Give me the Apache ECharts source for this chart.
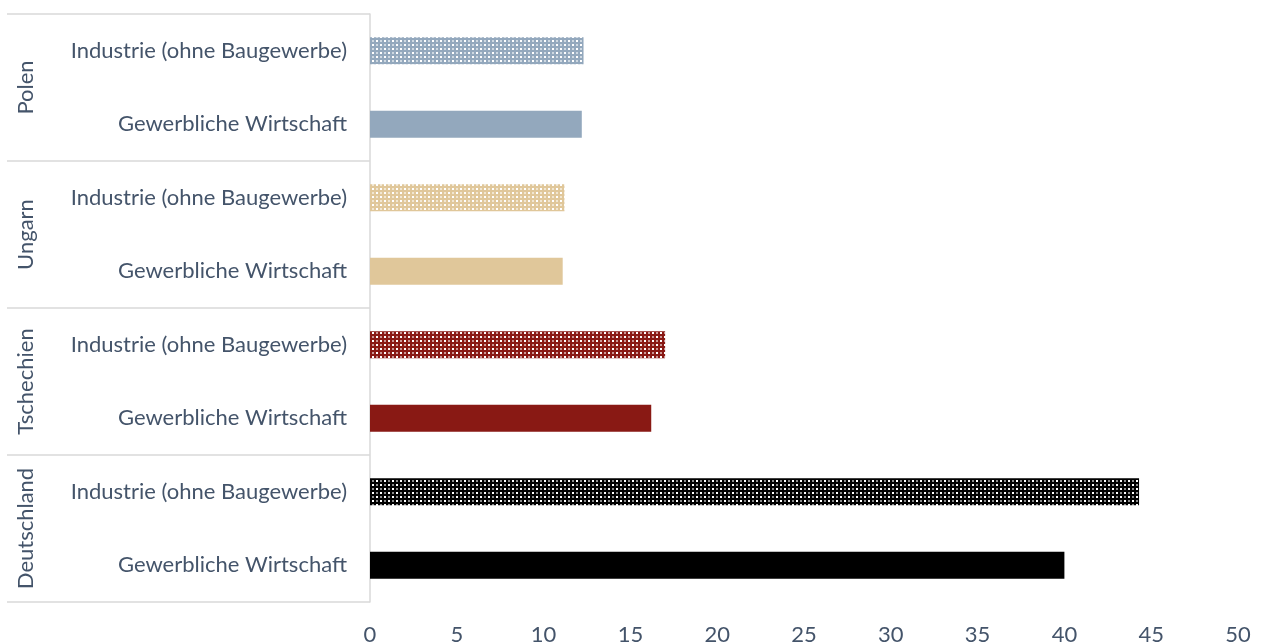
<!DOCTYPE html>
<html><head><meta charset="utf-8">
<script src="https://cdn.jsdelivr.net/npm/echarts@6/dist/echarts.min.js"></script>
<style>html,body{margin:0;padding:0;background:#fff}#c{width:1261px;height:644px}</style>
</head><body><div id="c"></div>
<script>
// Data (bottom to top, as the category axis draws them)
const countries = ['Deutschland', 'Tschechien', 'Ungarn', 'Polen'];
const subCategories = ['Gewerbliche Wirtschaft', 'Industrie (ohne Baugewerbe)'];
const categories = countries.flatMap(() => subCategories);
const values = [40.0, 44.3, 16.2, 17.0, 11.1, 11.2, 12.2, 12.3];
const xMin = 0, xMax = 50, xStep = 5;

// Styles
const countryColors = ['#000000', '#891914', '#E0C79A', '#93A8BD'];
const textColor = '#44546A';
const fontFamily = 'Lato, "Open Sans", sans-serif';

function pattern(color) {
  const c = document.createElement('canvas');
  c.width = 8; c.height = 8;
  const g = c.getContext('2d');
  g.fillStyle = color; g.fillRect(0, 0, 8, 8);
  g.fillStyle = '#ffffff';
  g.fillRect(0, 0, 2, 2); g.fillRect(4, 4, 2, 2);
  g.fillStyle = 'rgba(255,255,255,0.55)';
  g.fillRect(4, 0, 2, 2); g.fillRect(0, 4, 2, 2);
  return { image: c, repeat: 'repeat' };
}

const barData = values.map((v, i) => {
  const col = countryColors[Math.floor(i / 2)];
  return { value: v, itemStyle: { color: i % 2 === 1 ? pattern(col) : col } };
});

const chart = echarts.init(document.getElementById('c'), null, { renderer: 'canvas' });
chart.setOption({
  animation: false,
  backgroundColor: '#ffffff',
  grid: { left: 370, right: 23, top: 14, bottom: 42, containLabel: false, outerBoundsMode: 'none' },
  xAxis: {
    type: 'value', min: xMin, max: xMax, interval: xStep,
    axisLine: { show: false }, axisTick: { show: false }, splitLine: { show: false },
    axisLabel: { color: textColor, fontSize: 22, fontFamily, margin: 22 }
  },
  yAxis: [
    {
      type: 'category', data: categories, position: 'left',
      axisLine: { show: true, lineStyle: { color: '#D9D9D9', width: 1.5 } },
      axisTick: { show: false },
      axisLabel: { color: textColor, fontSize: 22, fontFamily, margin: 23, interval: 0 }
    },
    {
      type: 'category', data: countries, position: 'left', offset: 0,
      axisLine: { show: false },
      axisTick: { show: true, length: 363, interval: 0, lineStyle: { color: '#D9D9D9', width: 1.5 } },
      axisLabel: { color: textColor, fontSize: 22, fontFamily, rotate: 90, margin: 333, interval: 0 }
    }
  ],
  series: [{
    type: 'bar', yAxisIndex: 0, data: barData, barWidth: 27
  }]
});
</script></body></html>
